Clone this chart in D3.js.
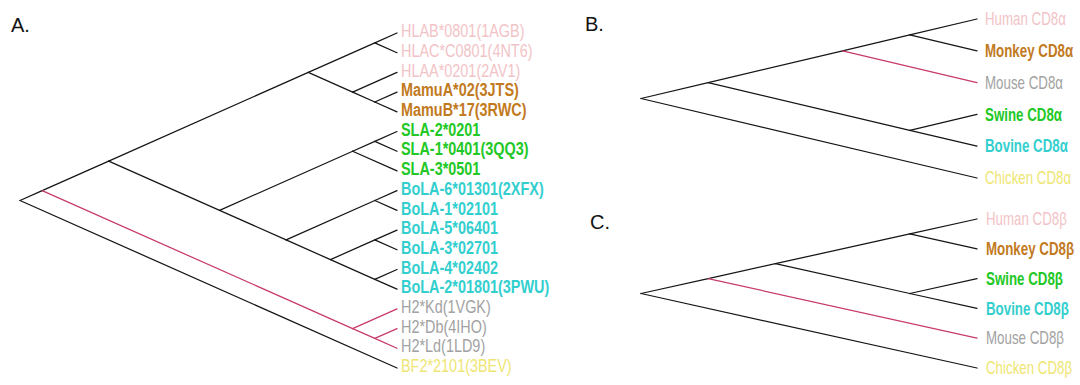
<!DOCTYPE html>
<html><head><meta charset="utf-8">
<script src="https://cdn.jsdelivr.net/npm/d3@7"></script>
<style>html,body{margin:0;padding:0;background:#fff;} svg{display:block;}</style>
</head><body><svg id="c" width="1080" height="385"></svg>
<script>
// ---- data ----
const treeA = [[[[["HLAB*0801(1AGB)","HLAC*C0801(4NT6)"],["HLAA*0201(2AV1)",["MamuA*02(3JTS)","MamuB*17(3RWC)"]]],
                 [[["SLA-2*0201","SLA-1*0401(3QQ3)"],"SLA-3*0501"],
                  [["BoLA-6*01301(2XFX)","BoLA-1*02101"],[["BoLA-5*06401","BoLA-3*02701"],["BoLA-4*02402","BoLA-2*01801(3PWU)"]]]]],
                ["H2*Kd(1VGK)",["H2*Db(4IHO)","H2*Ld(1LD9)"]]],
               "BF2*2101(3BEV)"];
const speciesA = ["human","human","human","monkey","monkey","swine","swine","swine",
                  "bovine","bovine","bovine","bovine","bovine","bovine","mouse","mouse","mouse","chicken"];
const highlightA = ["H2*Kd(1VGK)","H2*Db(4IHO)","H2*Ld(1LD9)"];

const treeB = [[[["Human CD8α","Monkey CD8α"],"Mouse CD8α"],["Swine CD8α","Bovine CD8α"]],"Chicken CD8α"];
const speciesB = ["human","monkey","mouse","swine","bovine","chicken"];
const highlightB = ["Mouse CD8α"];

const treeC = [[[["Human CD8β","Monkey CD8β"],["Swine CD8β","Bovine CD8β"]],"Mouse CD8β"],"Chicken CD8β"];
const speciesC = ["human","monkey","swine","bovine","mouse","chicken"];
const highlightC = ["Mouse CD8β"];

const panelLetters = ["A.","B.","C."];
const palette = {human:"#f2c3c6", monkey:"#c27a1e", swine:"#22c826", bovine:"#33cfcf", mouse:"#a2a2a2", chicken:"#eee673"};
const boldSpecies = ["monkey","swine","bovine"];

// ---- drawing ----
const svg = d3.select("#c");

function drawTree(tree, species, highlight, o) {
  const g = svg.append("g");
  const root = d3.hierarchy(tree, d => Array.isArray(d) ? d : null);
  const leaves = root.leaves();
  const names = leaves.map(l => l.data);
  const y = d3.scalePoint().domain(names).range([o.y0, o.y1]);
  const step = y.step();
  const x = d3.scaleLinear().domain([0, (names.length - 1) / 2]).range([o.xLeaf, o.xRoot]);
  root.each(n => {
    const ys = n.leaves().map(l => y(l.data));
    const lo = d3.min(ys), hi = d3.max(ys);
    n.py = (lo + hi) / 2;
    n.px = x((hi - lo) / step / 2);
    n.hl = n.leaves().every(l => highlight.includes(l.data));
  });
  const links = root.links().sort((a, b) => (a.target.hl ? 1 : 0) - (b.target.hl ? 1 : 0));
  g.selectAll("line").data(links).join("line")
    .attr("x1", d => d.source.px).attr("y1", d => d.source.py)
    .attr("x2", d => d.target.px).attr("y2", d => d.target.py)
    .attr("stroke", d => d.target.hl ? "#c83a6c" : "#151515")
    .attr("stroke-width", 1.25)
    .attr("stroke-linecap", "round");
  g.selectAll("text").data(leaves).join("text")
    .attr("transform", (d, i) => `translate(${o.labelX},${d.py + o.dy}) scale(${o.sx},1)`)
    .attr("dominant-baseline", "central")
    .attr("font-family", "'Liberation Sans', Arial, sans-serif")
    .attr("font-size", o.fs)
    .attr("font-weight", (d, i) => boldSpecies.includes(species[i]) ? "bold" : "normal")
    .attr("fill", (d, i) => palette[species[i]])
    .text(d => d.data);
}

drawTree(treeA, speciesA, highlightA, {y0: 33, y1: 368, xLeaf: 397, xRoot: 20, labelX: 401, dy: -2, fs: 19, sx: 0.76});
drawTree(treeB, speciesB, highlightB, {y0: 19, y1: 178, xLeaf: 977, xRoot: 641, labelX: 985, dy: 0, fs: 18, sx: 0.74});
drawTree(treeC, speciesC, highlightC, {y0: 219, y1: 368, xLeaf: 977, xRoot: 641, labelX: 986, dy: 0, fs: 18, sx: 0.74});

const letterPos = [[11, 32], [585, 31], [590, 229]];
svg.selectAll("text.letter").data(panelLetters).join("text")
  .attr("class", "letter")
  .attr("x", (d, i) => letterPos[i][0]).attr("y", (d, i) => letterPos[i][1])
  .attr("font-family", "'Liberation Sans', Arial, sans-serif")
  .attr("font-size", 20)
  .attr("fill", "#111")
  .text(d => d);
</script>
</body></html>
